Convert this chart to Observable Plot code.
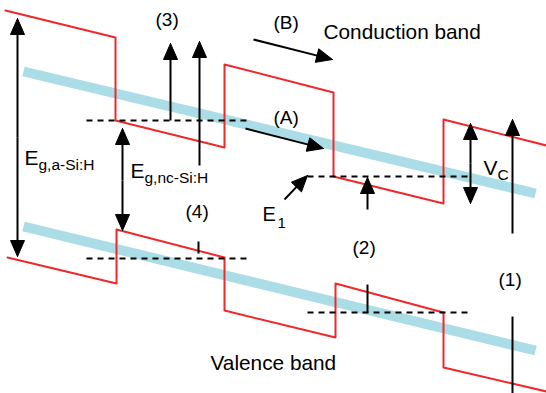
<!DOCTYPE html>
<html><head><meta charset="utf-8">
<script src="https://cdn.jsdelivr.net/npm/d3@7"></script>
<script src="https://cdn.jsdelivr.net/npm/@observablehq/plot@0.6"></script>
<style>html,body{margin:0;padding:0;background:#fff}svg{display:block}</style>
</head><body><div id="chart"></div>
<script>
// Band edges (diagram coordinates: x = position, y = energy, downward)
const cbX = [5,115,115,224,224,333,333,443,443,546];
const cbY = [10,37,120,147,64,92,176,203,119,145];
const vbX = [7,116,116,224,224,335,335,443,443,546];
const vbY = [257,283,229,257,310,337,283,312,367,391];
// Averaged (effective) band edges
const avgCbX = [23,535], avgCbY = [71,193];
const avgVbX = [23,535], avgVbY = [226,350];
// Confined levels (dashed)
const levelX1 = [86,307,86,307];
const levelX2 = [250,470,250,470];
const levelY  = [120,176,258,312];
// Arrows: start -> end, heads
const arrX1 = [17,17,122,122,170,199,253,245,284,367,470,470,512];
const arrY1 = [137,137,180,180,120,165,39,128,199,209,163,163,233];
const arrX2 = [17,17,122,122,170,199,332,323,307,367,470,470,512];
const arrY2 = [18,256,128,230,43,41,59,148,175,177,123,203,119];
// plain segments
const segX1 = [512,367,198], segY1 = [316,284,241];
const segX2 = [512,367,198], segY2 = [393,312,253];
// Labels
const lblText = ["(3)","(B)","Conduction band","(A)","E","E","(4)","E","(2)","V","(1)","Valence band"];
const lblX    = [155,273,323,273,24,130,185,262,352,483,498,210];
const lblY    = [19,22,32,117,158,171,211,214,247,168,279,363];
const lblSize = [19,19,20.8,19,21,21,19,20,19,21,19,20.8];
const subText = ["g,a-Si:H","g,nc-Si:H","1","C"];
const subX    = [38,144,277,497];
const subY    = [165,178,223,175];
const subSize = [15.5,15.5,15,15.5];

const zip2 = (xs, ys) => xs.map((x,i)=>({x, y: ys[i]}));
const arrows = arrX1.map((x1,i)=>({x1, y1: arrY1[i], x2: arrX2[i], y2: arrY2[i]}));
const HL = 16, HW = 7;
const shafts = arrows.map(a=>{
  const dx=a.x2-a.x1, dy=a.y2-a.y1, L=Math.hypot(dx,dy);
  return {x1:a.x1, y1:a.y1, x2:a.x2-dx/L*HL*0.6, y2:a.y2-dy/L*HL*0.6};
});
const heads = arrows.flatMap((a,i)=>{
  const dx=a.x2-a.x1, dy=a.y2-a.y1, L=Math.hypot(dx,dy);
  const ux=dx/L, uy=dy/L, bx=a.x2-ux*HL, by=a.y2-uy*HL;
  return [
    {id:i, x:a.x2, y:a.y2},
    {id:i, x:bx-uy*HW, y:by+ux*HW},
    {id:i, x:bx+uy*HW, y:by-ux*HW},
    {id:i, x:a.x2, y:a.y2}
  ];
});
const levels = levelX1.map((x1,i)=>({x1, x2: levelX2[i], y: levelY[i]}));
const segs = segX1.map((x1,i)=>({x1, y1: segY1[i], x2: segX2[i], y2: segY2[i]}));
const labels = lblText.map((t,i)=>({t, x: lblX[i], y: lblY[i], s: lblSize[i]}));
const subs = subText.map((t,i)=>({t, x: subX[i], y: subY[i], s: subSize[i]}));
const font = "Liberation Sans, Arial, Helvetica, sans-serif";

const chart = Plot.plot({
  width: 546, height: 393, margin: 0,
  style: {background: "#fff", fontFamily: font},
  x: {type: "linear", domain: [0,546], range: [0,546], axis: null},
  y: {type: "linear", domain: [0,393], range: [0,393], axis: null},
  marks: [
    Plot.line(zip2(avgCbX, avgCbY), {x:"x", y:"y", stroke:"#abdde6", strokeWidth:10, strokeLinecap:"butt"}),
    Plot.line(zip2(avgVbX, avgVbY), {x:"x", y:"y", stroke:"#abdde6", strokeWidth:10, strokeLinecap:"butt"}),
    Plot.line(zip2(cbX, cbY), {x:"x", y:"y", stroke:"#f0282a", strokeWidth:2, curve:"linear"}),
    Plot.line(zip2(vbX, vbY), {x:"x", y:"y", stroke:"#f0282a", strokeWidth:2, curve:"linear"}),
    Plot.link(levels, {x1:"x1", x2:"x2", y1:"y", y2:"y", stroke:"#000", strokeWidth:2, strokeDasharray:"6,5"}),
    Plot.link(segs, {x1:"x1", y1:"y1", x2:"x2", y2:"y2", stroke:"#000", strokeWidth:2}),
    Plot.link(shafts, {x1:"x1", y1:"y1", x2:"x2", y2:"y2", stroke:"#000", strokeWidth:2}),
    Plot.line(heads, {x:"x", y:"y", z:"id", fill:"#000", stroke:"#000", strokeWidth:1, curve:"linear"}),
    Plot.text(labels, {x:"x", y:"y", text:"t", fontSize:d=>d.s, textAnchor:"start", lineAnchor:"middle", fill:"#000", fontFamily:font}),
    Plot.text(subs, {x:"x", y:"y", text:"t", fontSize:d=>d.s, textAnchor:"start", lineAnchor:"middle", fill:"#000", fontFamily:font})
  ]
});
document.getElementById("chart").appendChild(chart);
</script>
</body></html>
